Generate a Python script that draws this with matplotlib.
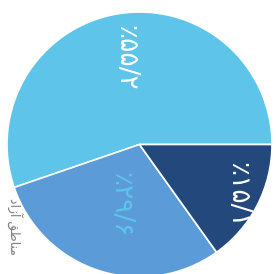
import numpy as np
import matplotlib
matplotlib.use("Agg")
import matplotlib.pyplot as plt

# سهم ها (درصد)
values = [55.2, 29.6, 15.1]
labels = ["٪۵۵/۲", "٪۲۹/۶", "٪۱۵/۱"]
colors = ["#5ec4ea", "#5b9bd8", "#23497c"]
label_colors = ["white", "#5ec4ea", "white"]
label_r = [0.66, 0.48, 0.83]
side_text = "ﺩﺍﺯﺁ ﻖﻃﺎﻨﻣ"  # مناطق آزاد (visual order, shaped)

fig = plt.figure(figsize=(2.76, 2.74), dpi=100)
ax = fig.add_axes([0, 0, 1, 1])
ax.set_xlim(0, 276)
ax.set_ylim(0, 274)
ax.set_aspect("equal")
ax.axis("off")

cx, cy, R = 139.5, 129.5, 132.5
wedges, _ = ax.pie(values, colors=colors, startangle=0, counterclock=True,
                   center=(cx, cy), radius=R,
                   wedgeprops=dict(edgecolor="white", linewidth=1.2))
ax.set_xlim(0, 276)
ax.set_ylim(0, 274)

for w, lab, col, r in zip(wedges, labels, label_colors, label_r):
    mid = np.deg2rad((w.theta1 + w.theta2) / 2)
    x = cx + r * R * np.cos(mid)
    y = cy + r * R * np.sin(mid)
    ax.text(x, y, lab, rotation=-90, ha="center", va="center",
            fontsize=19, color=col, family="DejaVu Sans")

ax.text(14, 76, side_text, rotation=-90, ha="center", va="top",
        fontsize=9, color="#7f7f7f", family="DejaVu Sans")

fig.savefig("out.png", dpi=100)
